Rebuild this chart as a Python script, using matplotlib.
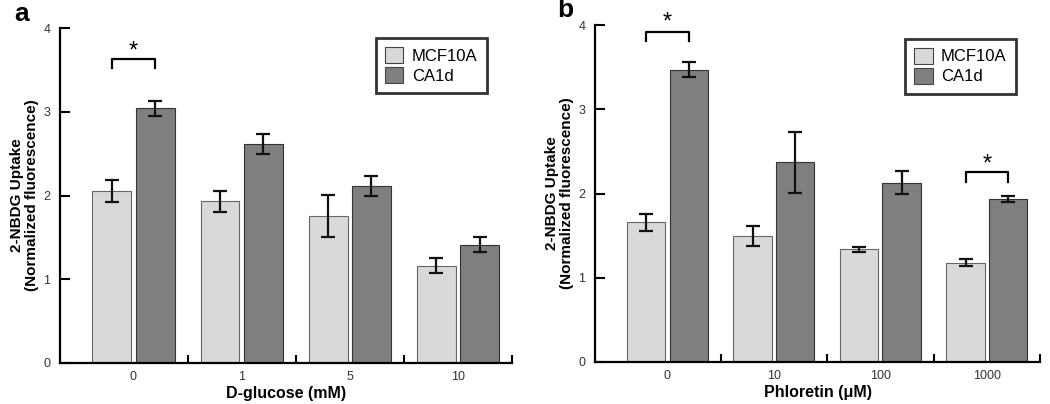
import numpy as np
import matplotlib.pyplot as plt
from matplotlib.patches import Patch

plt.rcParams['font.family'] = ['Liberation Sans', 'DejaVu Sans']

series_names = ['MCF10A', 'CA1d']
bar_colors = ['#d9d9d9', '#7f7f7f']

# panel a: D-glucose
glucose_labels = ['0', '1', '5', '10']
glucose_mcf = [2.05, 1.93, 1.76, 1.16]
glucose_mcf_err = [0.13, 0.13, 0.25, 0.09]
glucose_ca1d = [3.04, 2.62, 2.11, 1.41]
glucose_ca1d_err = [0.09, 0.12, 0.12, 0.09]
# (group index, bracket top, asterisk y)
glucose_sig = [(0, 3.63, 3.72)]

# panel b: phloretin
phloretin_labels = ['0', '10', '100', '1000']
phloretin_mcf = [1.66, 1.50, 1.34, 1.18]
phloretin_mcf_err = [0.10, 0.12, 0.03, 0.04]
phloretin_ca1d = [3.47, 2.37, 2.13, 1.93]
phloretin_ca1d_err = [0.09, 0.36, 0.14, 0.035]
phloretin_sig = [(0, 3.92, 4.03), (3, 2.25, 2.35)]


def draw_panel(ax, labels, mcf, mcf_err, ca1d, ca1d_err, sig, xlabel, legend_box):
    x = np.arange(len(labels))
    width = 0.36
    err_kw = dict(elinewidth=1.6, capthick=1.6, ecolor='#111111')
    for off, vals, errs, color, ec in [(-0.2, mcf, mcf_err, bar_colors[0], '#666666'),
                                        (0.2, ca1d, ca1d_err, bar_colors[1], '#333333')]:
        ax.bar(x + off, vals, width, yerr=errs, color=color, edgecolor=ec,
               linewidth=0.8, capsize=5, error_kw=err_kw, zorder=2)

    for idx, top, star in sig:
        ax.plot([idx - 0.2, idx - 0.2, idx + 0.2, idx + 0.2],
                [top - 0.11, top, top, top - 0.11], color='black', lw=1.6, clip_on=False)
        ax.text(idx, star, '*', ha='center', va='center', fontsize=17, clip_on=False)

    ax.set_xlim(-0.68, len(labels) - 0.5)
    ax.set_ylim(0, 4)
    ax.set_yticks([0, 1, 2, 3, 4])
    ax.set_xticks(x)
    ax.set_xticklabels(labels)
    ax.set_xticks(x + 0.5, minor=True)
    ax.tick_params(axis='x', which='major', length=0, pad=6, labelsize=9, labelcolor='#333333')
    ax.tick_params(axis='x', which='minor', direction='in', length=6, width=1.5)
    ax.tick_params(axis='y', direction='in', length=7, width=1.5, pad=7,
                   labelsize=9, labelcolor='#333333')
    for s in ['top', 'right']:
        ax.spines[s].set_visible(False)
    for s in ['left', 'bottom']:
        ax.spines[s].set_linewidth(1.6)

    ax.set_xlabel(xlabel, fontsize=11.5, fontweight='bold', labelpad=2)
    ax.set_ylabel('2-NBDG Uptake\n(Normalized fluorescence)', fontsize=11,
                  fontweight='bold', labelpad=3, linespacing=1.1)

    handles = [Patch(facecolor=c, edgecolor='#444444', linewidth=0.8) for c in bar_colors]
    leg = ax.legend(handles, series_names, loc='upper left', bbox_to_anchor=legend_box,
                    fontsize=12, frameon=True, fancybox=False, edgecolor='black',
                    handlelength=1.1, handleheight=1.1, handletextpad=0.5,
                    borderpad=0.55, labelspacing=0.2, borderaxespad=0)
    leg.get_frame().set_linewidth(2.0)


fig = plt.figure(figsize=(10.5, 4.04), dpi=100)
ax_a = fig.add_axes([0.0571, 0.1015, 0.4305, 0.829])
ax_b = fig.add_axes([0.5667, 0.104, 0.4238, 0.834])

draw_panel(ax_a, glucose_labels, glucose_mcf, glucose_mcf_err, glucose_ca1d, glucose_ca1d_err,
           glucose_sig, 'D-glucose (mM)', (0.699, 0.97))
draw_panel(ax_b, phloretin_labels, phloretin_mcf, phloretin_mcf_err, phloretin_ca1d,
           phloretin_ca1d_err, phloretin_sig, 'Phloretin (\u03bcM)', (0.697, 0.96))

fig.text(0.014, 0.965, 'a', fontsize=19, fontweight='bold', va='center')
fig.text(0.531, 0.975, 'b', fontsize=19, fontweight='bold', va='center')

fig.savefig('out.png', dpi=100)
